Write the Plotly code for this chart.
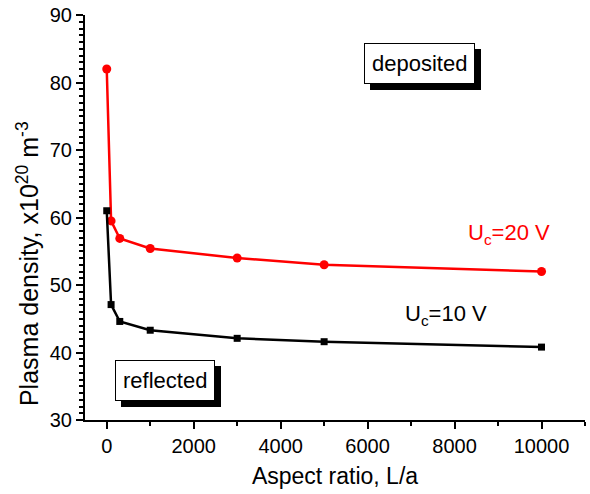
import plotly.graph_objects as go

aspect_ratio = [0, 100, 300, 1000, 3000, 5000, 10000]
density_20V = [82.0, 59.5, 56.9, 55.4, 54.0, 53.0, 52.0]
density_10V = [61.0, 47.1, 44.6, 43.3, 42.1, 41.6, 40.8]

FONT = "Liberation Sans, Arial, Helvetica, sans-serif"

fig = go.Figure()
fig.add_trace(go.Scatter(x=aspect_ratio, y=density_20V, mode="lines+markers",
                         line=dict(color="#ff0000", width=2.5),
                         marker=dict(symbol="circle", size=9, color="#ff0000"),
                         showlegend=False))
fig.add_trace(go.Scatter(x=aspect_ratio, y=density_10V, mode="lines+markers",
                         line=dict(color="black", width=2.5),
                         marker=dict(symbol="square", size=7, color="black"),
                         showlegend=False))

def boxed(text, x, y):
    common = dict(x=x, y=y, xref="x", yref="y", text=text, showarrow=False,
                  font=dict(family=FONT, size=22), borderpad=7, borderwidth=1)
    fig.add_annotation(**common, xshift=6, yshift=-6, bgcolor="black",
                       bordercolor="black", font_color="black")
    fig.add_annotation(**common, bgcolor="white", bordercolor="black",
                       font_color="black")

boxed("deposited", 7200, 82.8)
boxed("reflected", 1340, 35.9)

fig.add_annotation(x=9260, y=57.6, xref="x", yref="y", showarrow=False,
                   text="U<sub>c</sub>=20 V",
                   font=dict(family=FONT, size=22, color="#ff0000"))
fig.add_annotation(x=7800, y=45.5, xref="x", yref="y", showarrow=False,
                   text="U<sub>c</sub>=10 V",
                   font=dict(family=FONT, size=22, color="black"))

# y-axis title (placed lower than the axis centre, as in the reference)
fig.add_annotation(x=-0.114, y=0.385, xref="paper", yref="paper", showarrow=False,
                   textangle=-90, xanchor="center", yanchor="middle",
                   text="Plasma density, x10<sup>20</sup> m<sup>-3</sup>",
                   font=dict(family=FONT, size=25, color="black"))

axis_common = dict(showgrid=False, zeroline=False, showline=True, linecolor="black",
                   linewidth=2, ticks="outside", tickwidth=2, ticklen=7,
                   tickcolor="black", mirror=False, automargin=False,
                   tickfont=dict(family=FONT, size=20, color="black"))

fig.update_xaxes(range=[-500, 11000], tick0=0, dtick=2000, tickformat="d",
                 minor=dict(dtick=1000, ticks="outside", ticklen=4, tickwidth=2, tickcolor="black"),
                 title=dict(text="Aspect ratio, L/a", font=dict(family=FONT, size=23, color="black"),
                            standoff=12),
                 **axis_common)
fig.update_yaxes(range=[30, 90], tick0=30, dtick=10,
                 minor=dict(dtick=1, ticks="outside", ticklen=4, tickwidth=1.5, tickcolor="black"),
                 **axis_common)

fig.update_layout(width=590, height=494, margin=dict(l=85, r=5, t=15, b=74),
                  plot_bgcolor="white", paper_bgcolor="white",
                  font=dict(family=FONT, size=20, color="black"))

fig.write_html("out.html", post_script="document.body.style.margin='0';",
               config={"displayModeBar": False})
